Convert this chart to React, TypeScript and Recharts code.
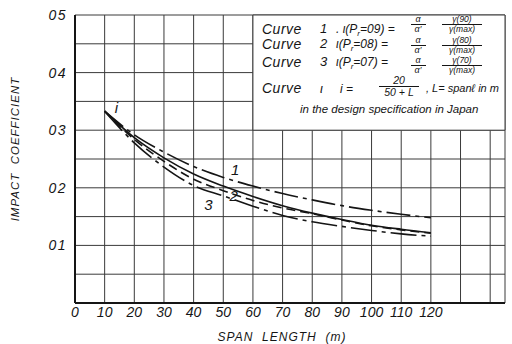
import React from 'react';
import { LineChart, Line, XAxis, YAxis, CartesianGrid, ReferenceArea, ReferenceDot } from 'recharts';

const spans = [10, 20, 30, 40, 50, 60, 70, 80, 90, 100, 110, 120];
const curve1 = [0.333, 0.292, 0.262, 0.237, 0.218, 0.203, 0.19, 0.179, 0.169, 0.161, 0.154, 0.148];
const curveI = [0.333, 0.287, 0.252, 0.224, 0.203, 0.185, 0.169, 0.156, 0.145, 0.135, 0.128, 0.122];
const curve2 = [0.333, 0.284, 0.246, 0.215, 0.195, 0.178, 0.165, 0.155, 0.144, 0.134, 0.127, 0.121];
const curve3 = [0.333, 0.278, 0.236, 0.204, 0.186, 0.168, 0.152, 0.141, 0.133, 0.126, 0.12, 0.116];

const xTicks = [0, 10, 20, 30, 40, 50, 60, 70, 80, 90, 100, 110, 120, 130, 140];
const xTickLabels = ['0', '10', '20', '30', '40', '50', '60', '70', '80', '90', '100', '110', '120'];
const yTicks = [0, 0.05, 0.1, 0.15, 0.2, 0.25, 0.3, 0.35, 0.4, 0.45, 0.5];
const yTickLabels = ['', '', '01', '', '02', '', '03', '', '04', '', '05'];

const data = spans.map((L, i) => ({ L, c1: curve1[i], ci: curveI[i], c2: curve2[i], c3: curve3[i] }));

const FONT = '"Liberation Sans", "DejaVu Sans", sans-serif';
const INK = '#151515';

const abs = (x: number, y: number, extra: React.CSSProperties = {}): React.CSSProperties => ({
  position: 'absolute', left: x, top: y, whiteSpace: 'nowrap', lineHeight: 1, ...extra,
});

function Frac({ num, den, cx, cy, w, size = 10 }: { num: string; den: string; cx: number; cy: number; w: number; size?: number }) {
  return (
    <div style={{ position: 'absolute', left: cx - w / 2, top: cy - size - 0.5, width: w, textAlign: 'center', fontSize: size, lineHeight: 1 }}>
      <div style={{ borderBottom: `1px solid ${INK}`, height: size }}>{num}</div>
      <div style={{ height: size }}>{den}</div>
    </div>
  );
}

function Legend() {
  const curveRows = [
    { y: 22, n: '1', iota: '09', g: '90', fy: 24 },
    { y: 37, n: '2', iota: '08', g: '80', fy: 45 },
    { y: 55, n: '3', iota: '07', g: '70', fy: 65 },
  ];
  return (
    <div style={{ position: 'absolute', left: 0, top: 0, width: 512, height: 344, fontFamily: FONT, fontStyle: 'italic', color: INK, pointerEvents: 'none' }}>
      {curveRows.map((r) => (
        <React.Fragment key={r.n}>
          <span style={abs(262, r.y, { fontSize: 14, letterSpacing: 0.5 })}>Curve</span>
          <span style={abs(320, r.y, { fontSize: 13 })}>{r.n}</span>
          <span style={abs(336, r.y + 1, { fontSize: 12 })}>
            {r.n === '1' ? '. ' : ''}ι(P<sub style={{ fontSize: 8 }}>r</sub>={r.iota}) =
          </span>
          <Frac num="α" den="α′" cx={418} cy={r.fy} w={15} size={9} />
          <Frac num={`γ(${r.g})`} den="γ(max)" cx={462} cy={r.fy} w={40} size={8.5} />
        </React.Fragment>
      ))}
      <span style={abs(262, 81, { fontSize: 14, letterSpacing: 0.5 })}>Curve</span>
      <span style={abs(320, 82, { fontSize: 13 })}>ι</span>
      <span style={abs(340, 83, { fontSize: 12 })}>i =</span>
      <Frac num="20" den="50 + L" cx={399} cy={86} w={40} size={10.5} />
      <span style={abs(426, 83, { fontSize: 11 })}>, L= spanℓ in m</span>
      <span style={abs(300, 104, { fontSize: 11.5 })}>in the design specification in Japan</span>

      <div style={abs(16, 149, { fontSize: 11.5, letterSpacing: 1, transform: 'translate(-50%, -50%) rotate(-90deg)' })}>IMPACT&nbsp;&nbsp;COEFFICIENT</div>
      <div style={abs(282, 337, { fontSize: 12, letterSpacing: 1, transform: 'translate(-50%, -50%)' })}>SPAN&nbsp;&nbsp;LENGTH&nbsp;&nbsp;(m)</div>
    </div>
  );
}

const labelStyle = { fontFamily: FONT, fontStyle: 'italic', fontSize: 15, fill: INK };

export default function App() {
  return (
    <div style={{ position: 'absolute', left: 0, top: 0, width: 512, height: 344, background: '#fff' }}>
      <LineChart width={512} height={344} data={data} margin={{ top: 15, right: 7, left: 0, bottom: 0 }} style={{ fontFamily: FONT }}>
        <CartesianGrid stroke="#3a3a3a" strokeWidth={1} />
        <XAxis
          dataKey="L"
          type="number"
          domain={[0, 145]}
          ticks={xTicks}
          interval={0}
          height={41}
          tickLine={false}
          tickSize={0}
          tickMargin={4}
          axisLine={{ stroke: INK, strokeWidth: 2 }}
          tick={{ fill: INK, fontSize: 14, fontStyle: 'italic' }}
          tickFormatter={(v: number) => xTickLabels[xTicks.indexOf(v)] ?? ''}
        />
        <YAxis
          type="number"
          domain={[0, 0.5]}
          ticks={yTicks}
          interval={0}
          width={75}
          tickLine={false}
          tickSize={0}
          tickMargin={8}
          axisLine={{ stroke: INK, strokeWidth: 2 }}
          tick={{ fill: INK, fontSize: 14, fontStyle: 'italic', letterSpacing: 1.5 }}
          tickFormatter={(v: number) => yTickLabels[yTicks.findIndex((t) => Math.abs(t - v) < 1e-6)] ?? ''}
        />
        <ReferenceArea x1={60} x2={145} y1={0.3} y2={0.5} fill="#fff" fillOpacity={1} stroke="#3a3a3a" strokeWidth={1} ifOverflow="extendDomain" />
        <Line type="monotone" dataKey="c1" stroke={INK} strokeWidth={1.6} strokeDasharray="24 5 4 5" dot={false} isAnimationActive={false} />
        <Line type="monotone" dataKey="ci" stroke={INK} strokeWidth={1.6} dot={false} isAnimationActive={false} />
        <Line type="monotone" dataKey="c2" stroke={INK} strokeWidth={1.6} strokeDasharray="9 5" dot={false} isAnimationActive={false} />
        <Line type="monotone" dataKey="c3" stroke={INK} strokeWidth={1.6} strokeDasharray="26 5 4 5" dot={false} isAnimationActive={false} />
        <ReferenceDot x={14} y={0.339} r={0} label={{ value: 'i', position: 'center', style: labelStyle }} />
        <ReferenceDot x={54} y={0.232} r={0} label={{ value: '1', position: 'center', style: labelStyle }} />
        <ReferenceDot x={53.5} y={0.186} r={0} label={{ value: '2', position: 'center', style: labelStyle }} />
        <ReferenceDot x={45} y={0.17} r={0} label={{ value: '3', position: 'center', style: labelStyle }} />
      </LineChart>
      <Legend />
    </div>
  );
}
